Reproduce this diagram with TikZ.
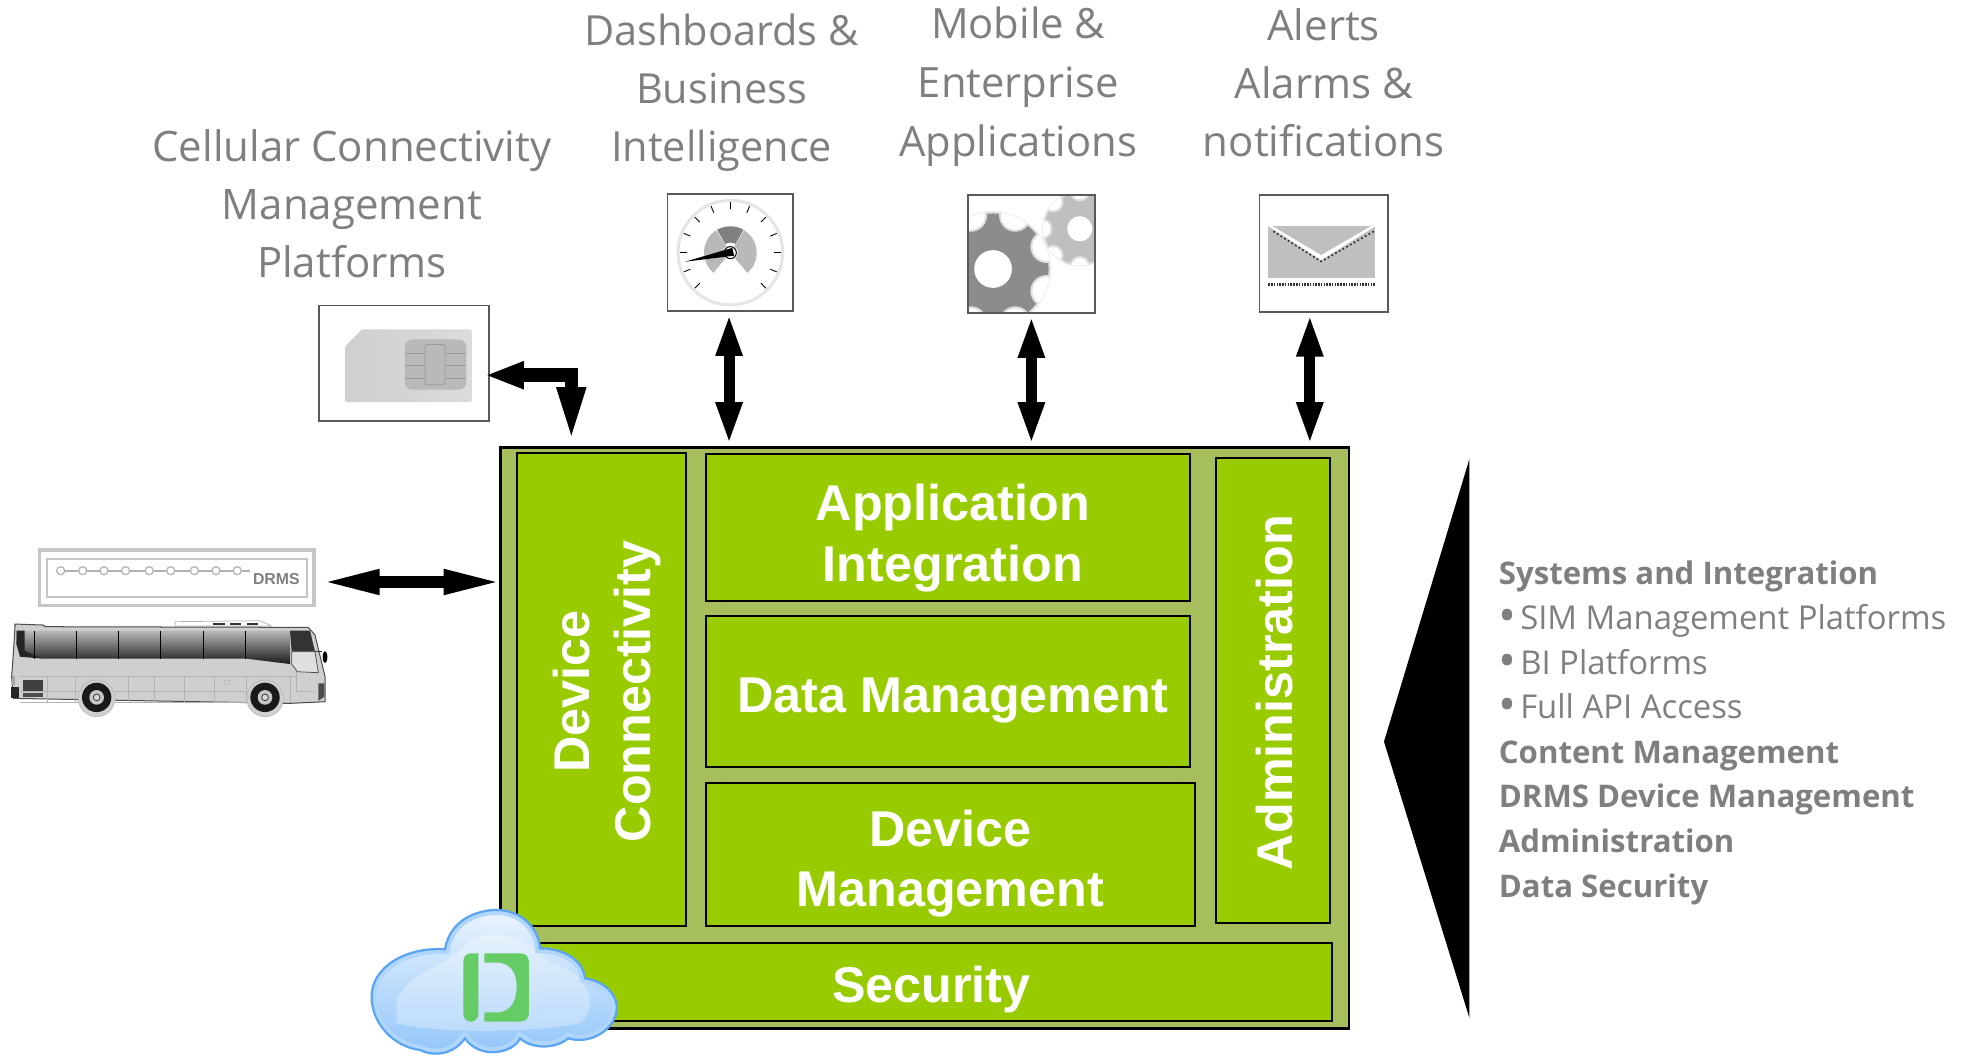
\documentclass[tikz,border=0pt]{standalone}
\usepackage{fontspec}
\setmainfont{Open Sans}
\newfontfamily\arialf{Liberation Sans}
\usetikzlibrary{arrows.meta,calc,shadings}
\definecolor{outerg}{HTML}{A6BF5C}
\definecolor{innerg}{HTML}{99CC00}
\definecolor{txtgray}{HTML}{7F7F7F}
\definecolor{framegray}{HTML}{595959}
\definecolor{logog}{HTML}{66CC66}
\definecolor{cloudtop}{HTML}{EAF4FC}
\definecolor{cloudbot}{HTML}{8FC4FA}
\definecolor{cloudline}{HTML}{5BA5F2}
\tikzset{
  outerbox/.style={draw=black,line width=1pt,fill=outerg,inner sep=0pt},
  greenbox/.style={draw=black,line width=0.8pt,fill=innerg,inner sep=0pt},
  whitetxt/.style={text=white,inner sep=0pt,align=center,font=\arialf\bfseries\fontsize{20}{24}\selectfont},
  headtxt/.style={text=txtgray,inner sep=0pt,align=center,font=\fontsize{16.7}{23}\selectfont},
  iconbox/.style={draw=framegray,line width=0.7pt,fill=white,inner sep=0pt},
  biarrow/.style={line width=4.4pt,{Triangle[length=17pt,width=9.5pt]}-{Triangle[length=17pt,width=9.5pt]},shorten <=0.5pt,shorten >=0.5pt},
  longarrow/.style={line width=4.4pt,{Triangle[length=23.5pt,width=9pt]}-{Triangle[length=23.5pt,width=9pt]}},
  simarrow/.style={line width=5.4pt,line join=miter,{Triangle[length=15.5pt,width=10pt]}-{Triangle[length=23pt,width=10pt]}}
}
\newcommand{\cloudpath}{(285,178) .. controls (300,90) and (380,60) .. (440,60) .. controls (510,60) and (565,110) .. (570,175) .. controls (640,175) and (700,210) .. (705,265) .. controls (770,275) and (805,320) .. (800,360) .. controls (795,420) and (720,465) .. (655,445) .. controls (620,475) and (550,480) .. (510,445) .. controls (490,490) and (390,510) .. (345,445) .. controls (310,495) and (250,500) .. (210,480) .. controls (130,470) and (65,400) .. (65,320) .. controls (65,230) and (170,170) .. (285,178) -- cycle}
\newcommand{\bigdot}{\makebox[8.5pt][l]{\fontsize{19}{17.75}\selectfont\raisebox{-1.2pt}{•}}}
\newcommand{\bo}[1]{{\fontsize{12.4}{17.75}\selectfont\bfseries #1}}
\begin{document}
\begin{tikzpicture}[x=0.5pt,y=-0.5pt]
\useasboundingbox (0,0) rectangle (1568,839.3);

% main block
\node[outerbox,minimum width=337.5pt,minimum height=231pt] (outer) at (735.5,587) {};
\node[greenbox,minimum width=67.5pt,minimum height=188.5pt] (conn) at (478.5,548.5) {};
\node[whitetxt,rotate=90] (conntxt) at (483,550) {Device\\Connectivity};
\node[greenbox,minimum width=192.5pt,minimum height=58.5pt] (app) at (754.5,419.5) {};
\node[whitetxt] (apptxt) at (758,428) {Application\\Integration};
\node[greenbox,minimum width=192.5pt,minimum height=60pt] (data) at (754.5,550) {};
\node[whitetxt] (datatxt) at (758,557) {Data Management};
\node[greenbox,minimum width=194.5pt,minimum height=57pt] (dev) at (756.5,680) {};
\node[whitetxt] (devtxt) at (756,687) {Device\\Management};
\node[greenbox,minimum width=45.5pt,minimum height=185pt] (admin) at (1012.5,549) {};
\node[whitetxt,rotate=90] (admintxt) at (1014,551) {Administration};
\node[greenbox,minimum width=319pt,minimum height=31pt] (sec) at (741,781) {};
\node[whitetxt] (sectxt) at (741,787) {Security};

% headings
\node[headtxt] (h1) at (280,162) {Cellular Connectivity\\Management\\Platforms};
\node[headtxt,font=\fontsize{16.5}{23}\selectfont] (h2) at (574,74) {Dashboards \&\\Business\\Intelligence};
\node[headtxt,font=\fontsize{16.6}{23.5}\selectfont] (h3) at (810,69) {Mobile \&\\Enterprise\\Applications};
\node[headtxt] (h4) at (1053,66) {Alerts\\Alarms \&\\notifications};

% icon boxes
\node[iconbox,minimum width=67.5pt,minimum height=46pt] (simbox) at (321.5,289) {};
\node[iconbox,minimum width=50pt,minimum height=46.5pt] (gaugebox) at (581,201) {};
\node[iconbox,minimum width=50.5pt,minimum height=47pt] (gearbox) at (820.5,202) {};
\node[iconbox,minimum width=51pt,minimum height=46.5pt] (mailbox) at (1053,201.5) {};

% sim card
\shade[left color=gray!38,right color=gray!28,rounded corners=0.6pt] (288,262) -- (375,262) -- (375,320) -- (275,320) -- (275,275) -- cycle;
\fill[gray!55,rounded corners=3pt] (322,270) rectangle (371,310);
\draw[gray!80,line width=0.3pt,rounded corners=1pt] (338,274) rectangle (354,306);
\foreach \yy in {281,291,301}{\draw[gray!80,line width=0.3pt] (322,\yy) -- (338,\yy) (354,\yy) -- (371,\yy);}

% gauge
\begin{scope}[shift={(581,201)},x=1pt,y=1pt]
  \draw[draw=gray!20,line width=1.2pt,fill=white] (0,0) circle (20.8pt);
  \foreach \a in {-45,-22.5,...,225}{\draw[black,line width=0.35pt] (\a:17.2pt) -- (\a:20pt);}
  \fill[gray!55] (-50:10.5pt) arc[start angle=-50,end angle=58,radius=10.5pt] -- (58:3pt) arc[start angle=58,end angle=-50,radius=3pt] -- cycle;
  \fill[gray!55] (122:10.5pt) arc[start angle=122,end angle=230,radius=10.5pt] -- (230:3pt) arc[start angle=230,end angle=122,radius=3pt] -- cycle;
  \fill[gray] (60:10.5pt) arc[start angle=60,end angle=120,radius=10.5pt] -- (120:4pt) arc[start angle=120,end angle=60,radius=4pt] -- cycle;
  \draw[black,line width=0.4pt,fill=white] (0,0) circle (2.4pt);
  \fill[black] (-18,-3.6) -- (0.8,1.9) -- (1.5,-1.2) -- cycle;
\end{scope}

% gears
\begin{scope}
  \clip (770.5,155) rectangle (870.5,248.5);
  \draw[gray!25,line width=0.8pt,fill=gray!50] (859,182) circle (29);
  \begin{scope}
    \clip (859,182) circle (29.4);
    \foreach \a in {0,45,...,315}{\draw[gray!25,line width=0.8pt,fill=white] ($(859,182)+(\a:15pt)$) circle (7.5);}
  \end{scope}
  \fill[white] (859,182) circle (10);
  \draw[gray!25,line width=0.8pt,fill=gray!90] (790,214) circle (45);
  \begin{scope}
    \clip (790,214) circle (45.4);
    \foreach \a in {22.5,67.5,...,337.5}{\draw[gray!25,line width=0.8pt,fill=white] ($(790,214)+(\a:23pt)$) circle (12);}
  \end{scope}
  \fill[white] (790,214) circle (15);
\end{scope}
\node[draw=framegray,line width=0.9pt,minimum width=50.5pt,minimum height=47pt,inner sep=0pt] (gearframe) at (820.5,202) {};

% envelope
\fill[gray!50] (1009,180) rectangle (1094,221);
\fill[white] (1009,178) -- (1051,203) -- (1094,178) -- (1094,180) -- (1051,207) -- (1009,180) -- cycle;
\draw[gray!40!black,line width=0.7pt,densely dotted] (1013,184) -- (1051,208) -- (1093,184);
\draw[gray!40!black,line width=1.2pt,dash pattern=on 0.6pt off 0.5pt] (1009,226) -- (1094,226);

% arrows
\draw[biarrow] ([xshift=-0.5pt]gaugebox.south) -- ([xshift=-0.5pt]gaugebox.south |- outer.north);
\draw[biarrow] (gearbox.south) -- (gearbox.south |- outer.north);
\draw[biarrow] ([xshift=-5.5pt]mailbox.south) -- ([xshift=-5.5pt]mailbox.south |- outer.north);
\coordinate (simcorner) at (454.5,298.5);
\coordinate (simfoot) at (454.5,354);
\draw[simarrow,shorten <=-2pt] (simbox.east |- simcorner) -- (simcorner) -- (simfoot);
\coordinate (busend) at (255,463);
\draw[longarrow,shorten >=-1.5pt] (busend) -- (outer.west |- busend);

% DRMS plate
\begin{scope}[shift={(0,413.7)},scale=0.2652]
  \draw[gray!45,line width=1.4pt] (118,90) rectangle (942,256);
  \draw[gray!45,line width=0.8pt] (140,116) rectangle (920,230);
  \draw[gray!60,line width=0.8pt] (182,152) -- (750,152);
  \foreach \xx in {182,248,312,377,448,512,583,648,712}{\draw[gray!60,line width=0.5pt,fill=white] (\xx,152) circle (12);}
  \node[text=gray,inner sep=0pt,font=\arialf\bfseries\fontsize{6.3}{7}\selectfont] (drmstxt) at (829,176) {DRMS};
\end{scope}

% bus
\begin{scope}[shift={(0,413.7)},scale=0.2652]
  \draw[gray!60,fill=white,line width=0.3pt] (525,318) -- (525,305) -- (780,302) -- (815,318) -- cycle;
  \foreach \xx in {640,690,740}{\fill[black!80] (\xx,309) rectangle ++(34,6);}
  \draw[gray!60!black,fill=gray!38,line width=0.4pt] (45,320) -- (45,312) -- (130,315) -- (135,320) -- (925,322) -- (945,345) -- (975,470) -- (975,545) -- (870,550) -- (40,535) -- (35,470) -- (40,400) -- cycle;
  \shade[top color=gray!55,bottom color=black!90] (50,332) -- (870,332) -- (870,432) -- (740,416) -- (130,416) -- (70,400) -- (50,375) -- cycle;
  \fill[black!85] (50,332) -- (74,332) -- (74,392) -- (100,405) -- (130,416) -- (60,410) -- (50,375) -- cycle;
  \foreach \xx in {103,229,355,481,610,736}{\draw[black,line width=0.3pt] (\xx,332) -- (\xx,416);}
  \fill[black!80] (870,332) -- (930,332) -- (945,395) -- (875,395) -- cycle;
  \draw[black!70,fill=gray!25,line width=0.3pt] (875,395) -- (945,395) -- (955,458) -- (892,455) -- (875,432) -- cycle;
  \draw[black!80,line width=0.4pt] (945,395) -- (965,395);
  \fill[black] (975,411) ellipse (7 and 18);
  \draw[gray!60,line width=0.2pt] (60,468) -- (890,468) (60,548) -- (870,548) (142,468) -- (142,545) (225,468) -- (225,545) (385,468) -- (385,548) (463,468) -- (463,548) (553,468) -- (553,548) (643,468) -- (643,548) (738,468) -- (738,548) (872,468) -- (872,550) (890,455) -- (890,515) -- (945,515);
  \draw[gray!60,line width=0.2pt] (60,515) -- (240,515) (340,515) -- (735,515);
  \fill[black!75] (68,480) rectangle (128,512);
  \fill[black!70] (68,520) rectangle (128,532);
  \fill[black!85] (32,500) rectangle (58,535);
  \fill[gray!70] (36,468) rectangle (46,495);
  \fill[black!70] (955,490) -- (973,490) -- (973,530) -- (955,542) -- cycle;
  \draw[gray!50,line width=0.3pt] (672,482) rectangle (688,494);
  \foreach \cx in {290,795}{
    \draw[gray!60,fill=gray!38,line width=0.2pt] (\cx,535) circle (55);
    \fill[black!90] (\cx,532) circle (44);
    \fill[gray!45] (\cx,532) circle (22);
    \draw[black!80,line width=0.3pt,fill=gray!30] (\cx,532) circle (10);
  }
\end{scope}

% right triangle and list
\fill[black] (1169,365) -- (1101,590) -- (1169,810) -- cycle;
\node[text=txtgray,anchor=north west,inner sep=0pt,align=left,font=\fontsize{13.07}{17.75}\selectfont] (list) at (1192,446) {%
\bo{Systems and Integration}\\
\bigdot SIM Management Platforms\\
\bigdot BI Platforms\\
\bigdot Full API Access\\
\bo{Content Management}\\
\bo{DRMS Device Management}\\
\bo{Administration}\\
\bo{Data Security}};

% cloud
\begin{scope}[shift={(278.4,708)},scale=0.2652]
  \shade[top color=cloudtop,bottom color=cloudbot] \cloudpath;
  \begin{scope}
    \clip \cloudpath;
    \fill[white,opacity=0.3] (140,330) .. controls (180,240) and (300,230) .. (360,150) .. controls (450,110) and (540,150) .. (600,220) .. controls (700,240) and (760,340) .. (690,400) .. controls (550,430) and (250,430) .. (140,400) -- cycle;
    \draw[cloudbot!70!white,line width=4pt] \cloudpath;
  \end{scope}
  \draw[cloudline,line width=0.9pt] \cloudpath;
  \fill[logog,rounded corners=3pt] (385,190) -- (340,190) -- (340,395) -- (385,395) [sharp corners] -- cycle;
  \fill[logog] (403,190) -- (510,190) .. controls (527,190) and (537,200) .. (537,217) -- (537,368) .. controls (537,385) and (527,395) .. (510,395) -- (403,395) -- (403,367) -- (450,367) .. controls (485,360) and (500,330) .. (500,290) .. controls (500,250) and (485,225) .. (450,218) -- (403,218) -- cycle;
\end{scope}
\end{tikzpicture}
\end{document}
